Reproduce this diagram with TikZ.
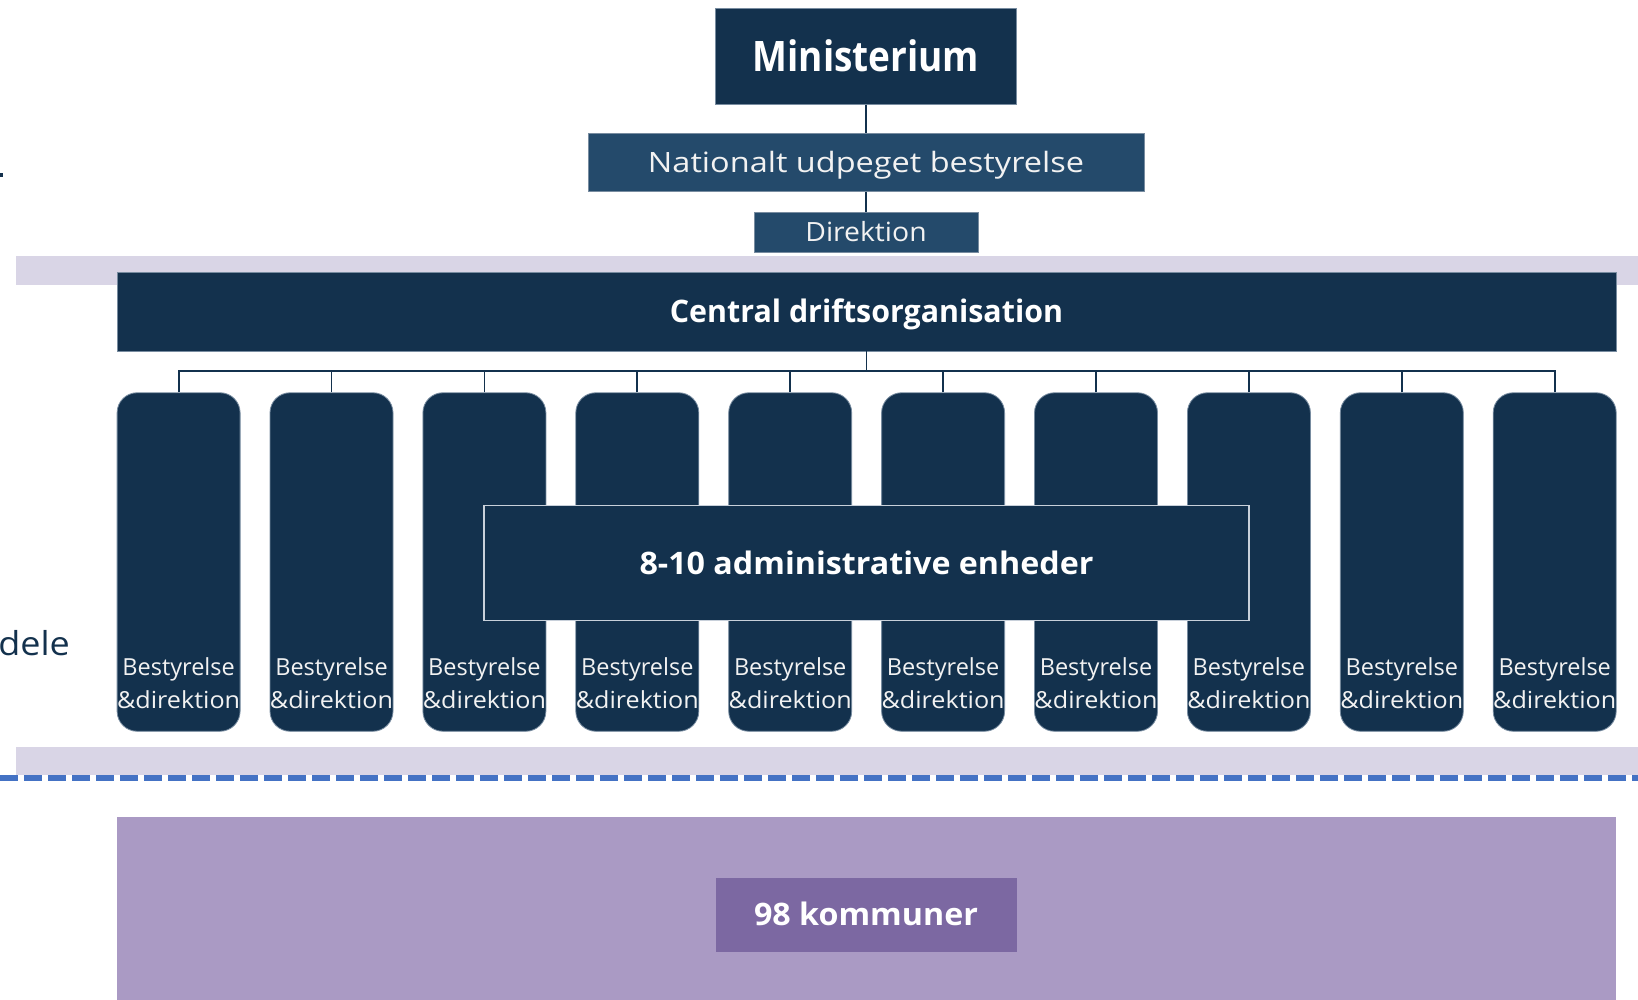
\documentclass[tikz,border=0pt]{standalone}
\usepackage{graphicx}
\usepackage{fontspec}
\setmainfont{Open Sans}
\definecolor{navy}{RGB}{19,49,77}
\definecolor{navymid}{RGB}{36,74,107}
\definecolor{lav}{RGB}{217,213,230}
\definecolor{purp}{RGB}{170,154,196}
\definecolor{purpdark}{RGB}{124,104,162}
\definecolor{dashblue}{RGB}{68,114,196}
\definecolor{edgegray}{RGB}{120,140,160}
\definecolor{lightedge}{RGB}{200,208,218}
\definecolor{offwhite}{RGB}{242,242,242}
\begin{document}
\begin{tikzpicture}[x=1pt,y=-1pt,
  box/.style={rectangle, fill=navy, draw=edgegray, line width=0.8pt, inner sep=0pt, text=white, text depth=0pt},
  midbox/.style={rectangle, fill=navymid, draw=edgegray, line width=0.8pt, inner sep=0pt, text=offwhite, text depth=0pt},
  colbox/.style={rectangle, rounded corners=20pt, fill=navy, draw=edgegray, line width=0.8pt, inner sep=0pt, minimum width=123pt, minimum height=338.5pt},
  coltext/.style={anchor=base, inner sep=0pt, text=offwhite, font=\fontsize{23.5}{28}\selectfont},
  conn/.style={draw=navy, line width=1.8pt},
  band/.style={fill=lav, draw=none}
]
\useasboundingbox (0,0) rectangle (1638,999);
\fill[white] (0,0) rectangle (1638,999);

% clipped text fragments at the left
\fill[navy] (0,173) rectangle (3,177);
\node[anchor=base east, inner sep=0pt, text=navy, font=\fontsize{33}{38}\selectfont] (dele) at (70,655) {\scalebox{1.09}[1]{dele}};

% top chain
\node[box, text height=30pt, minimum width=301pt, minimum height=96pt, font=\fontsize{42}{50}\selectfont\bfseries] (min) at (866,56.3) {\scalebox{0.88}[1]{Ministerium}};
\node[midbox, text height=20pt, minimum width=556pt, minimum height=57.5pt, font=\fontsize{28}{33}\selectfont] (nat) at (866,162.5) {\scalebox{1.16}[1]{Nationalt udpeget bestyrelse}};
\node[midbox, text height=18.9pt, minimum width=224pt, minimum height=40pt, font=\fontsize{26.5}{30}\selectfont] (dir) at (866,232) {\scalebox{1.07}[1]{Direktion}};
\draw[conn] (min.south) -- (nat.north);
\draw[conn] (nat.south) -- (dir.north);

% upper band and central organisation
\fill[band] (15.7,256) rectangle (1638,285);
\node[box, text height=22.1pt, minimum width=1499pt, minimum height=78.4pt, font=\fontsize{31}{37}\selectfont\bfseries] (cen) at (866.5,311.8) {\scalebox{0.98}[1]{Central driftsorganisation}};

% bus
\coordinate (bus) at (866.5,371);
\draw[conn] (cen.south) -- (bus);

% columns
\foreach \i in {0,...,9}{
  \pgfmathsetmacro{\cx}{178.6+152.9*\i}
  \node[colbox] (c\i) at (\cx,562) {};
  \draw[conn] (c\i.north) |- (bus);
  \node[coltext] (b\i) at (\cx,675) {Bestyrelse};
  \node[coltext] (d\i) at (\cx,708.5) {\scalebox{1.07}[1]{\&direktion}};
}

% administrative units
\node[box, draw=lightedge, line width=1.8pt, text height=22.1pt, minimum width=765.7pt, minimum height=115pt, font=\fontsize{31}{37}\selectfont\bfseries] (adm) at (866.5,563) {\scalebox{1.04}[1]{8-10 administrative enheder}};

% lower band and dashed line
\fill[band] (15.7,747) rectangle (1638,775);
\draw[dashblue, line width=5.5pt, dash pattern=on 18pt off 6pt] (0,778) -- (1638,778);

% municipalities
\fill[purp] (117,817) rectangle (1616,1005);
\node[rectangle, fill=purpdark, inner sep=0pt, text=white, text height=22.1pt, text depth=0pt, minimum width=301pt, minimum height=74pt, font=\fontsize{31}{37}\selectfont\bfseries] (kom) at (866,914.5) {\scalebox{1.04}[1]{98 kommuner}};
\end{tikzpicture}
\end{document}
